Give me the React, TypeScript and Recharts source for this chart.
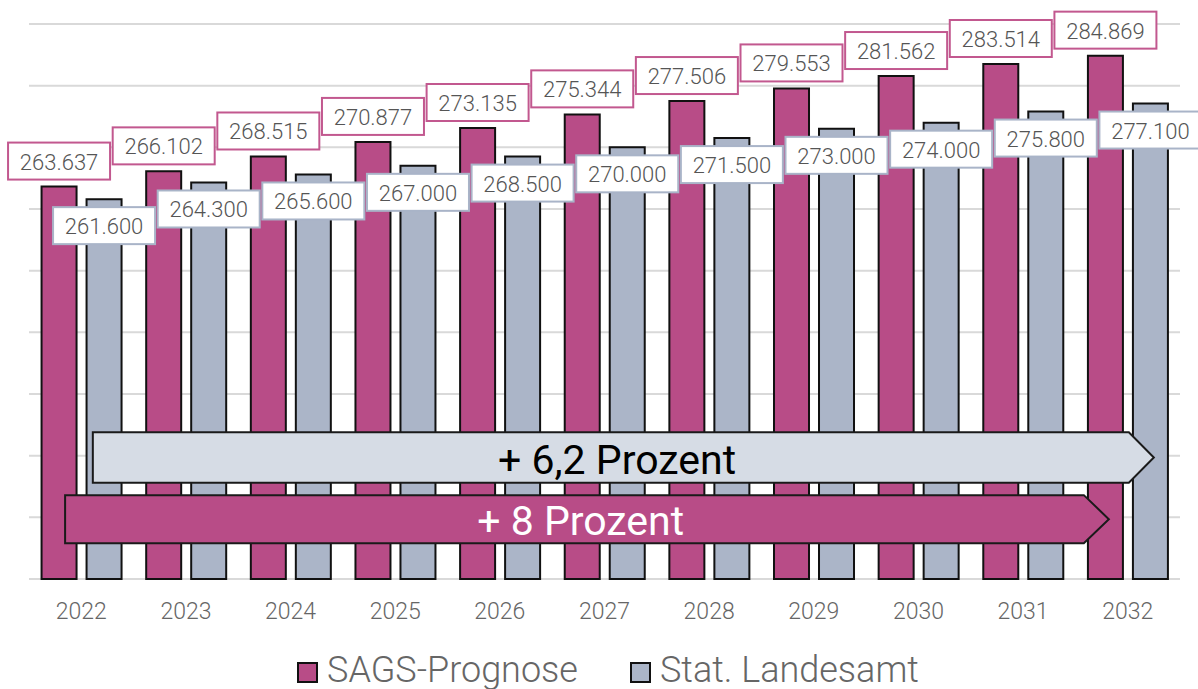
import { BarChart, Bar, XAxis, YAxis, CartesianGrid, LabelList, Legend, ReferenceArea } from "recharts";

const years = ["2022", "2023", "2024", "2025", "2026", "2027", "2028", "2029", "2030", "2031", "2032"];
const sagsPrognose = [263637, 266102, 268515, 270877, 273135, 275344, 277506, 279553, 281562, 283514, 284869];
const statLandesamt = [261600, 264300, 265600, 267000, 268500, 270000, 271500, 273000, 274000, 275800, 277100];
const yTicks = [200000, 210000, 220000, 230000, 240000, 250000, 260000, 270000, 280000, 290000];

const seriesNames = ["SAGS-Prognose", "Stat. Landesamt"];
const arrowTexts = ["+ 6,2 Prozent", "+ 8 Prozent"];

const PINK = "#b84c87";
const GRAY = "#abb5c8";
const LIGHT = "#d6dce5";

const data = years.map((year, i) => ({ year, sags: sagsPrognose[i], stat: statLandesamt[i] }));

const fmt = (v: number) => Number(v).toLocaleString("de-DE", { minimumFractionDigits: 0 });

// boxed value label; pink ones sit above the bar, gray ones inside the top
const makeLabel = (border: string, above: boolean) => (props: any) => {
  const { x, y, width, value } = props;
  const cx = x + width / 2;
  const bw = 102;
  const bh = 37;
  const top = above ? y - 7 - bh : y + 8;
  return (
    <g>
      <rect x={cx - bw / 2} y={top} width={bw} height={bh} fill="#fff" stroke={border} strokeWidth={2} />
      <text
        x={cx}
        y={top + bh / 2 + 1}
        textAnchor="middle"
        dominantBaseline="central"
        fontSize={22}
        fontWeight={300}
        fill="#555"
      >
        {fmt(value)}
      </text>
    </g>
  );
};

const PinkLabel = makeLabel("#c2588f", true);
const GrayLabel = makeLabel("#a9b4c8", false);

// arrow annotation drawn into the reference area box
const makeArrow = (fill: string, textColor: string, label: string, leftFrac: number, rightFrac: number) => (props: any) => {
  const { x, y, width, height } = props;
  const band = width / years.length;
  const left = x + leftFrac * band;
  const tip = x + width - rightFrac * band;
  const head = 25;
  const mid = y + height / 2;
  const pts = [
    [left, y],
    [tip - head, y],
    [tip, mid],
    [tip - head, y + height],
    [left, y + height],
  ]
    .map((p) => p.join(","))
    .join(" ");
  return (
    <g>
      <polygon points={pts} fill={fill} stroke="#1a1a1a" strokeWidth={2} />
      <text
        x={(left + tip - head / 2) / 2}
        y={mid + 2}
        textAnchor="middle"
        dominantBaseline="central"
        fontSize={41}
        fill={textColor}
      >
        {label}
      </text>
    </g>
  );
};

const LightArrow = makeArrow(LIGHT, "#000", arrowTexts[0], 0.61, 0.25);
const PinkArrow = makeArrow(PINK, "#fff", arrowTexts[1], 0.345, 0.68);

const LegendContent = () => (
  <div
    style={{
      height: 70,
      boxSizing: "border-box",
      paddingTop: 31,
      paddingLeft: 18,
      display: "flex",
      justifyContent: "center",
      gap: 52,
      fontSize: 36,
      fontWeight: 300,
      color: "#666",
      lineHeight: "38px",
    }}
  >
    {seriesNames.map((name, i) => (
      <div key={name} style={{ display: "flex", alignItems: "center" }}>
        <span
          style={{
            width: 17,
            height: 17,
            background: i === 0 ? PINK : GRAY,
            border: "2px solid #111",
            marginRight: 9,
            marginTop: 6,
            display: "inline-block",
          }}
        />
        <span>{name}</span>
      </div>
    ))}
  </div>
);

export default function App() {
  return (
    <div style={{ position: "absolute", left: 0, top: 0, fontFamily: "Roboto, sans-serif" }}>
      <BarChart
        width={1198}
        height={689}
        data={data}
        margin={{ top: 24, right: 18, left: 29, bottom: 0 }}
        barCategoryGap="12%"
        barGap={10}
      >
        <CartesianGrid vertical={false} stroke="#d9d9d9" strokeWidth={2} />
        <XAxis
          dataKey="year"
          height={40}
          axisLine={false}
          tickLine={false}
          tickMargin={18}
          tick={{ fontSize: 23, fill: "#666", fontWeight: 300 }}
        />
        <YAxis hide domain={[200000, 290000]} ticks={yTicks} />
        <Legend verticalAlign="bottom" content={LegendContent} wrapperStyle={{ left: 0, width: 1198 }} />
        <Bar dataKey="sags" name={seriesNames[0]} fill={PINK} stroke="#111" strokeWidth={2} isAnimationActive={false}>
          <LabelList dataKey="sags" content={PinkLabel} />
        </Bar>
        <Bar dataKey="stat" name={seriesNames[1]} fill={GRAY} stroke="#111" strokeWidth={2} isAnimationActive={false}>
          <LabelList dataKey="stat" content={GrayLabel} />
        </Bar>
        <ReferenceArea
          x1="2022"
          x2="2032"
          y1={215600}
          y2={223800}
          ifOverflow="visible"
          zIndex={1000}
          shape={LightArrow}
        />
        <ReferenceArea
          x1="2022"
          x2="2032"
          y1={205800}
          y2={213600}
          ifOverflow="visible"
          zIndex={1000}
          shape={PinkArrow}
        />
      </BarChart>
    </div>
  );
}
